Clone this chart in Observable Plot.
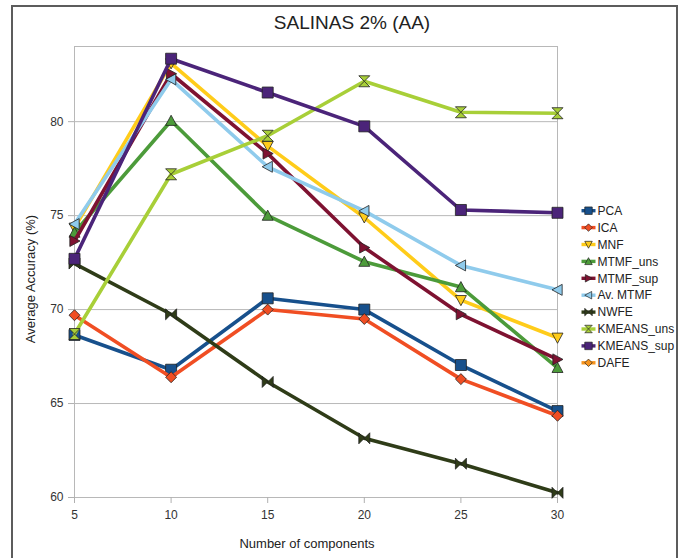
<!DOCTYPE html>
<html><head><meta charset="utf-8">
<script src="https://cdn.jsdelivr.net/npm/d3@7"></script>
<script src="https://cdn.jsdelivr.net/npm/@observablehq/plot@0.6"></script>
<style>
body{margin:0;background:#fff;}
#wrap{position:relative;width:688px;height:558px;font-family:"Liberation Sans",Arial,sans-serif;color:#222;overflow:hidden;background:#fff;}
#border{position:absolute;left:11px;top:5px;width:667px;height:600px;border:2px solid #5c5c5c;box-sizing:border-box;}
#chart{position:absolute;left:0;top:0;}
#title{position:absolute;left:0;width:704px;top:10px;text-align:center;font-size:19px;line-height:26px;color:#222;}
#ylab{position:absolute;left:30px;top:279px;transform:translate(-50%,-50%) rotate(-90deg);font-size:13px;white-space:nowrap;color:#222;}
#xlab{position:absolute;left:307px;top:543px;transform:translate(-50%,-50%);font-size:13px;white-space:nowrap;color:#222;}
#legend{position:absolute;left:0;top:0;}
</style></head>
<body>
<div id="wrap">
  <div id="border"></div>
  <div id="chart"></div>
  <div id="title">SALINAS 2% (AA)</div>
  <div id="ylab">Average Accuracy (%)</div>
  <div id="xlab">Number of components</div>
  <svg id="legend" width="688" height="558"></svg>
</div>
<script>
// ---- data ----
const components = [5, 10, 15, 20, 25, 30];
const xTicks = [5, 10, 15, 20, 25, 30];
const yTicks = [60, 65, 70, 75, 80];
const seriesNames = ["PCA", "ICA", "MNF", "MTMF_uns", "MTMF_sup", "Av. MTMF", "NWFE", "KMEANS_uns", "KMEANS_sup", "DAFE"];
const pca       = [68.65, 66.8, 70.6, 70.0, 67.05, 64.6];
const ica       = [69.7, 66.4, 70.0, 69.5, 66.3, 64.35];
const mnf       = [74.35, 83.1, 78.7, 74.9, 70.5, 68.5];
const mtmfUns   = [74.1, 80.05, 75.0, 72.55, 71.2, 66.9];
const mtmfSup   = [73.65, 82.55, 78.3, 73.3, 69.75, 67.35];
const avMtmf    = [74.55, 82.25, 77.6, 75.25, 72.35, 71.05];
const nwfe      = [72.45, 69.75, 66.15, 63.15, 61.8, 60.25];
const kmeansUns = [68.7, 77.2, 79.25, 82.15, 80.5, 80.45];
const kmeansSup = [72.7, 83.35, 81.55, 79.75, 75.3, 75.15];
const dafe      = [];

// ---- symbols ----
const S = {
  square:{draw(c,s){const h=Math.sqrt(s)/2; c.rect(-h,-h,2*h,2*h);}},
  diamond:{draw(c,s){const h=Math.sqrt(s)/2; c.moveTo(0,-h); c.lineTo(h,0); c.lineTo(0,h); c.lineTo(-h,0); c.closePath();}},
  triUp:{draw(c,s){const h=Math.sqrt(s)/2; c.moveTo(0,-h); c.lineTo(h,h*0.85); c.lineTo(-h,h*0.85); c.closePath();}},
  triDown:{draw(c,s){const h=Math.sqrt(s)/2; c.moveTo(0,h); c.lineTo(h,-h*0.85); c.lineTo(-h,-h*0.85); c.closePath();}},
  triRight:{draw(c,s){const h=Math.sqrt(s)/2; c.moveTo(h,0); c.lineTo(-h*0.85,h); c.lineTo(-h*0.85,-h); c.closePath();}},
  triLeft:{draw(c,s){const h=Math.sqrt(s)/2; c.moveTo(-h,0); c.lineTo(h*0.85,h); c.lineTo(h*0.85,-h); c.closePath();}},
  bowtie:{draw(c,s){const h=Math.sqrt(s)/2; c.moveTo(-h,-h); c.lineTo(0,0); c.lineTo(-h,h); c.closePath(); c.moveTo(h,-h); c.lineTo(0,0); c.lineTo(h,h); c.closePath();}},
  hourglass:{draw(c,s){const h=Math.sqrt(s)/2; c.moveTo(-h,-h); c.lineTo(h,-h); c.lineTo(0,0); c.closePath(); c.moveTo(-h,h); c.lineTo(h,h); c.lineTo(0,0); c.closePath();}}
};

const series = [
  {name:"PCA", values:pca, color:"#17508c", symbol:S.square},
  {name:"ICA", values:ica, color:"#f04e23", symbol:S.diamond},
  {name:"MNF", values:mnf, color:"#ffcc1a", symbol:S.triDown},
  {name:"MTMF_uns", values:mtmfUns, color:"#4c9b3a", symbol:S.triUp},
  {name:"MTMF_sup", values:mtmfSup, color:"#7e1231", symbol:S.triRight},
  {name:"Av. MTMF", values:avMtmf, color:"#8fcbec", symbol:S.triLeft},
  {name:"NWFE", values:nwfe, color:"#2f3c18", symbol:S.bowtie},
  {name:"KMEANS_uns", values:kmeansUns, color:"#a8cf38", symbol:S.hourglass},
  {name:"KMEANS_sup", values:kmeansSup, color:"#4b2479", symbol:S.square},
  {name:"DAFE", values:dafe, color:"#f7941d", symbol:S.diamond}
];

const marks = [
  Plot.ruleY(yTicks.filter(v => v > 60), {stroke:"#b8b8b8", strokeWidth:1}),
  Plot.frame({stroke:"#b8b8b8", strokeWidth:1}),
  Plot.axisY({ticks:yTicks, tickSize:6, tickPadding:5, stroke:"#b0b0b0", fill:"#333", label:null, fontSize:12}),
  Plot.axisX({ticks:xTicks, tickSize:6, tickPadding:7, stroke:"#b0b0b0", fill:"#333", label:null, fontSize:12})
];
for (const s of series) {
  const rows = s.values.map((v, i) => ({x: components[i], y: v}));
  if (!rows.length) continue;
  marks.push(Plot.line(rows, {x:"x", y:"y", stroke:s.color, strokeWidth:3.6, strokeLinejoin:"round"}));
  marks.push(Plot.dot(rows, {x:"x", y:"y", symbol:s.symbol, r:6.2, fill:s.color, stroke:"#222", strokeWidth:0.8}));
}

const chart = Plot.plot({
  width:688, height:558,
  marginLeft:74, marginRight:131, marginTop:46, marginBottom:61,
  x:{domain:[5,30]},
  y:{domain:[60,84]},
  style:{fontFamily:'"Liberation Sans", Arial, sans-serif', fontSize:"12px", background:"transparent", color:"#333"},
  marks
});
document.getElementById("chart").appendChild(chart);

// ---- legend ----
const lg = d3.select("#legend");
series.forEach((s, i) => {
  const y = 210.7 + i * 16.9;
  const g = lg.append("g").attr("transform", `translate(0,${y})`);
  g.append("line").attr("x1", 581.5).attr("x2", 595.5).attr("y1", 0).attr("y2", 0)
    .attr("stroke", s.color).attr("stroke-width", 3.4);
  g.append("path").attr("transform", "translate(588.5,0)")
    .attr("d", d3.symbol().type(s.symbol).size(56)())
    .attr("fill", s.color).attr("stroke", "#222").attr("stroke-width", 0.7);
  g.append("text").attr("x", 597.5).attr("y", 0).attr("dy", "0.35em")
    .attr("font-size", 12).attr("fill", "#222")
    .attr("font-family", '"Liberation Sans", Arial, sans-serif')
    .text(s.name);
});
</script>
</body></html>
